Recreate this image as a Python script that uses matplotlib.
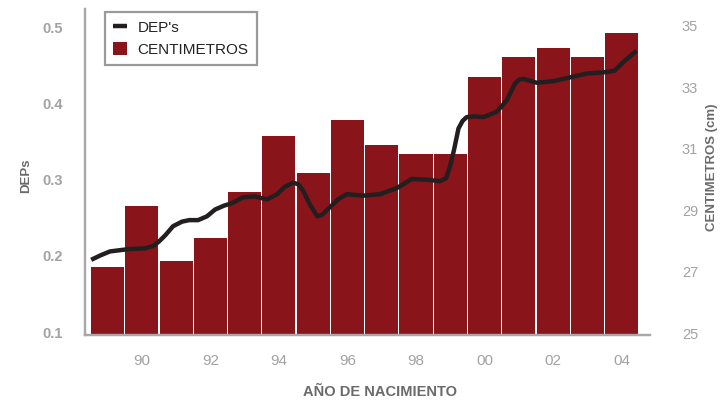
import matplotlib
matplotlib.use('Agg')
import matplotlib.pyplot as plt
from matplotlib.lines import Line2D
from matplotlib.patches import Patch

plt.rcParams['font.family'] = ['Liberation Sans', 'DejaVu Sans']

# Bars: centimetres per birth year
years = [1989, 1990, 1991, 1992, 1993, 1994, 1995, 1996,
         1997, 1998, 1999, 2000, 2001, 2002, 2003, 2004]
cm = [27.15, 29.14, 27.35, 28.10, 29.59, 31.42, 30.21, 31.94,
      31.12, 30.83, 30.83, 33.34, 33.99, 34.28, 33.99, 34.77]

# Smoothed DEP line
dep_x = [1988.52, 1988.80, 1989.07, 1989.61, 1990.09, 1990.33, 1990.50,
         1990.68, 1990.91, 1991.17, 1991.38, 1991.64, 1991.90, 1992.14,
         1992.40, 1992.62, 1992.96, 1993.30, 1993.65, 1993.95, 1994.18,
         1994.42, 1994.56, 1994.70, 1994.91, 1995.12, 1995.26, 1995.49,
         1995.75, 1995.98, 1996.46, 1996.95, 1997.44, 1997.70, 1997.88,
         1998.30, 1998.70, 1998.88, 1998.99, 1999.11, 1999.24, 1999.36,
         1999.48, 1999.71, 1999.97, 2000.36, 2000.65, 2000.89, 2001.01,
         2001.13, 2001.30, 2001.52, 2002.00, 2002.40, 2002.98, 2003.57,
         2003.80, 2004.05, 2004.44]
dep_y = [0.195, 0.201, 0.206, 0.209, 0.210, 0.213, 0.219,
         0.227, 0.239, 0.245, 0.247, 0.247, 0.252, 0.261,
         0.266, 0.269, 0.277, 0.278, 0.274, 0.281, 0.291,
         0.296, 0.294, 0.286, 0.267, 0.252, 0.254, 0.264,
         0.275, 0.281, 0.279, 0.281, 0.289, 0.296, 0.301,
         0.300, 0.298, 0.302, 0.317, 0.339, 0.367, 0.377,
         0.382, 0.383, 0.382, 0.389, 0.404, 0.426, 0.431,
         0.432, 0.430, 0.427, 0.429, 0.433, 0.439, 0.441,
         0.443, 0.454, 0.469]

xtick_years = [1990, 1992, 1994, 1996, 1998, 2000, 2002, 2004]
xtick_labels = ['90', '92', '94', '96', '98', '00', '02', '04']

BAR = '#89141a'
LINE = '#231f20'
TICK = '#a2a2a2'
LABEL = '#6a6a6a'
SPINE = '#a8a8a8'

fig = plt.figure(figsize=(7.22, 4.03), dpi=100)
ax_bar = fig.add_axes([85/722, 1-335/403, 565/722, 326/403])
ax_line = ax_bar.twinx()

cm_low = 24.95
ax_bar.bar(years, [v - cm_low for v in cm], bottom=cm_low, width=0.965,
           color=BAR, linewidth=0)
ax_bar.set_ylim(cm_low, 35.55)
ax_bar.set_xlim(1988.34, 2004.83)
ax_bar.yaxis.tick_right()
ax_bar.set_yticks([25, 27, 29, 31, 33, 35])
ax_bar.tick_params(axis='y', length=0, pad=23, labelsize=10.5, labelcolor=TICK)
ax_bar.set_xticks(xtick_years)
ax_bar.set_xticklabels(xtick_labels)
ax_bar.tick_params(axis='x', length=0, pad=14, labelsize=11, labelcolor=TICK)

ax_line.plot(dep_x, dep_y, color=LINE, linewidth=3.2,
             solid_capstyle='butt', solid_joinstyle='round')
ax_line.set_ylim(0.0965, 0.5236)
ax_line.yaxis.tick_left()
ax_line.set_yticks([0.1, 0.2, 0.3, 0.4, 0.5])
ax_line.set_yticklabels(['0.1', '0.2', '0.3', '0.4', '0.5'], fontweight='bold')
ax_line.tick_params(axis='y', length=0, pad=16, labelsize=10.5, labelcolor=TICK)

for a in (ax_bar, ax_line):
    a.spines['top'].set_visible(False)
    a.spines['right'].set_visible(False)
    a.spines['left'].set_color(SPINE)
    a.spines['left'].set_linewidth(1.6)
    a.spines['bottom'].set_color(SPINE)
    a.spines['bottom'].set_linewidth(1.6)

fig.text(26/722, 1-176/403, 'DEPs', rotation=90, ha='center', va='center',
         fontsize=9.5, fontweight='bold', color=LABEL)
fig.text(712/722, 1-167/403, 'CENTIMETROS (cm)', rotation=90, ha='center',
         va='center', fontsize=9.5, fontweight='bold', color=LABEL)
fig.text(380/722, 1-392/403, 'AÑO DE NACIMIENTO', ha='center', va='center',
         fontsize=10.5, fontweight='bold', color=LABEL)

handles = [Line2D([], [], color=LINE, linewidth=3.2, solid_capstyle='butt'),
           Patch(facecolor=BAR, edgecolor='none')]
leg = ax_line.legend(handles, ["DEP's", 'CENTIMETROS'], loc='upper left',
                     bbox_to_anchor=(0.035, 0.99), borderaxespad=0,
                     fontsize=11, fancybox=False, handlelength=0.9,
                     handleheight=0.9, handletextpad=0.7, labelspacing=0.45,
                     borderpad=0.55, framealpha=1)
leg.get_frame().set_edgecolor('#9a9a9a')
leg.get_frame().set_linewidth(1.6)
for t in leg.get_texts():
    t.set_color('#222222')

fig.savefig('out.png', dpi=100)
